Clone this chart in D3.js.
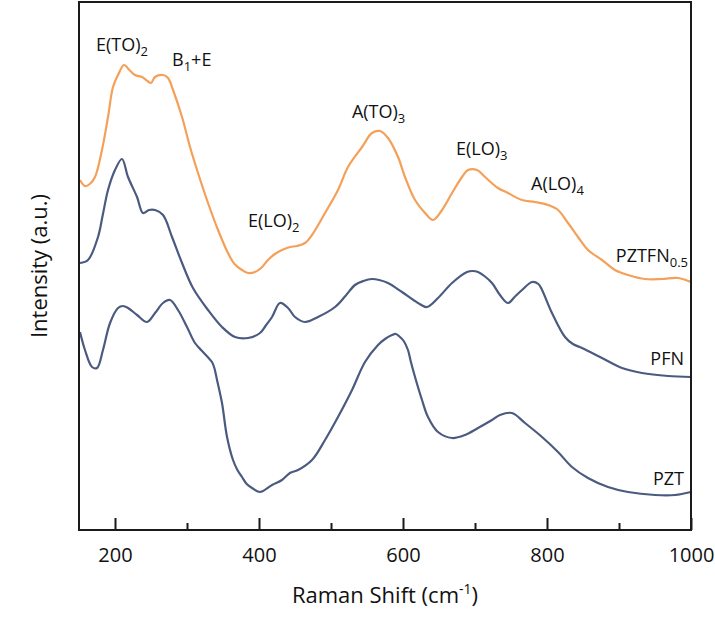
<!DOCTYPE html>
<html>
<head>
<meta charset="utf-8">
<script src="https://cdn.jsdelivr.net/npm/d3@7"></script>
<style>
  html, body { margin: 0; padding: 0; background: #ffffff; }
  svg { display: block; }
  text { font-family: "Open Sans", "Noto Sans", sans-serif; fill: #111; }
</style>
</head>
<body>
<svg id="chart" width="715" height="625"></svg>
<script>
// Raman shift (cm^-1) and stacked intensity (a.u., vertically offset) for each sample
const pztfnShift = [151.4,158.3,165,172.2,181.9,190.3,197.2,204.2,212.5,220,227.8,237.5,245,250,255.6,266.7,273.6,280.6,293.1,304.2,315.3,329.2,343.1,356.9,366,376.4,385,394.4,403,412.5,422,431.9,443,453,463.9,473.6,491.7,509.7,523.6,543.1,556.9,568.1,579.2,593.1,602.8,616.7,630.6,641.7,654.2,668.1,681.9,690.3,702.8,713.9,731.9,745.8,765.3,783.3,801.4,815.3,829.2,843.1,856.9,876.4,894.4,912.5,936.1,959.7,981.9,1000];
const pztfnIntensity = [350,344,346,353,380,413,443,455,465,460,455,453,449,447,453,455,452,440,413,383,357,327,300,277,266,260,257,258,262,270,276,280,283,284,287,295,317,340,363,383,397,399,392,373,353,330,317,310,320,337,353,360,360,353,342,337,330,328,325,320,307,293,280,270,260,255,251,251,252,248];

const pfnShift = [151.4,162.5,176.4,183,190.3,200,209.7,218.1,230.6,238.9,247.2,255.6,266.7,279.2,293.1,308.3,329.2,348.6,366.7,384.7,401.4,410,418.1,429.2,440.3,450,463.9,481.9,505.6,520,533.3,545,556.9,567,579.2,598.6,620.8,633.3,648.6,668.1,688.9,697,704.2,713,723.6,734.7,745.8,755,765.3,779.2,788,793.1,806.9,825,836,848.6,876.4,904.2,931.9,968.1,1000];
const pfnIntensity = [267,270,293,315,340,360,371,353,333,317,320,320,315,293,267,242,220,203,193,192,197,205,213,227,222,213,208,213,223,234,245,249,251,250,247,238,227,223,232,247,258,259,258,254,247,235,227,233,240,248,246,240,217,193,186,182,172,162,157,154,153];

const pztShift = [151.4,158.3,168.1,175,183.3,193.1,204.2,211,218.1,230.6,244.4,255.6,266.7,276.4,287.5,300,311.1,322.2,330,334.7,338,341.7,348.6,355.6,363.9,370,376.4,383,390.3,401.4,418.1,431.9,443,454.2,473.6,491.7,509.7,529.2,547.2,565.3,575,584.7,590,595.8,601,606.9,611,616.7,626.4,634.7,648.6,668.1,686.1,704.2,723.6,734.7,751.4,769.4,793.1,815.3,834.7,856.9,884.7,912.5,950,977.8,1000];
const pztIntensity = [198,180,163,162,180,207,222,224,222,215,208,217,227,230,220,203,187,178,172,168,162,150,127,93,70,60,53,46,42,38,45,50,57,60,70,90,113,140,168,185,191,195,196,193,189,180,168,153,130,113,98,92,95,102,110,115,117,107,93,78,63,52,43,38,35,35,38];

const seriesNames = ["PZTFN", "PFN", "PZT"];
const seriesColors = ["#f5a058", "#4b5b80", "#4b5b80"];

const majorTicks = [200, 400, 600, 800, 1000];
const minorTicks = [300, 500, 700, 900];

// Phonon mode annotations: [base text, subscript, trailing text, shift, intensity]
const modeLabels = [
  ["E(TO)", "2", "", 173.6, 479],
  ["B", "1", "+E", 279.2, 464],
  ["E(LO)", "2", "", 384.7, 303],
  ["A(TO)", "3", "", 529, 412],
  ["E(LO)", "3", "", 673.6, 375],
  ["A(LO)", "4", "", 777.8, 340]
];

const svg = d3.select("#chart");
const plotLeft = 79, plotRight = 691, plotTop = 2, plotBottom = 530;

const x = d3.scaleLinear().domain([150, 1000]).range([plotLeft, plotRight]);
const y = d3.scaleLinear().domain([0, 528]).range([plotBottom, plotTop]);

const line = d3.line()
  .x(d => x(d[0]))
  .y(d => y(d[1]))
  .curve(d3.curveCatmullRom.alpha(0.5));

const series = [
  d3.zip(pztfnShift, pztfnIntensity),
  d3.zip(pfnShift, pfnIntensity),
  d3.zip(pztShift, pztIntensity)
];

svg.append("g").selectAll("path")
  .data(series)
  .join("path")
  .attr("d", line)
  .attr("fill", "none")
  .attr("stroke", (d, i) => seriesColors[i])
  .attr("stroke-width", 2.2)
  .attr("stroke-linejoin", "round");

// Plot frame
svg.append("rect")
  .attr("x", plotLeft).attr("y", plotTop)
  .attr("width", plotRight - plotLeft).attr("height", plotBottom - plotTop)
  .attr("fill", "none")
  .attr("stroke", "#1a1a1a")
  .attr("stroke-width", 2);

// Bottom axis: inward major ticks with labels, shorter minor ticks
const xAxis = d3.axisBottom(x)
  .tickValues(majorTicks)
  .tickFormat(d3.format("d"))
  .tickSizeInner(-12)
  .tickSizeOuter(0)
  .tickPadding(18);

const gx = svg.append("g")
  .attr("transform", `translate(0,${plotBottom})`)
  .call(xAxis);
gx.select(".domain").remove();
gx.selectAll(".tick line").attr("stroke", "#1a1a1a").attr("stroke-width", 2);
gx.selectAll(".tick text")
  .style("font-family", '"Open Sans", sans-serif')
  .style("font-size", "20px")
  .attr("fill", "#111");

const minorAxis = d3.axisBottom(x)
  .tickValues(minorTicks)
  .tickFormat("")
  .tickSizeInner(-7)
  .tickSizeOuter(0);
const gm = svg.append("g")
  .attr("transform", `translate(0,${plotBottom})`)
  .call(minorAxis);
gm.select(".domain").remove();
gm.selectAll(".tick line").attr("stroke", "#1a1a1a").attr("stroke-width", 2);

// Axis titles
const xTitle = svg.append("text")
  .attr("x", 385)
  .attr("y", 603)
  .attr("text-anchor", "middle")
  .style("font-size", "22px");
xTitle.append("tspan").text("Raman Shift (cm");
xTitle.append("tspan").attr("dy", -9).style("font-size", "14px").text("-1");
xTitle.append("tspan").attr("dy", 9).text(")");

svg.append("text")
  .attr("transform", "translate(47,266) rotate(-90)")
  .attr("text-anchor", "middle")
  .style("font-size", "22px")
  .text("Intensity (a.u.)");

// Mode annotations
modeLabels.forEach(([base, sub, tail, sx, sy]) => {
  const t = svg.append("text")
    .attr("x", x(sx))
    .attr("y", y(sy))
    .style("font-size", "18px");
  t.append("tspan").text(base);
  t.append("tspan").attr("dy", 5).style("font-size", "13px").text(sub);
  if (tail) t.append("tspan").attr("dy", -5).text(tail);
});

// Sample names at the right end of each trace
const sampleLabels = [
  ["PZTFN", "0.5", 268],
  ["PFN", "", 165],
  ["PZT", "", 45]
];
sampleLabels.forEach(([name, sub, sy]) => {
  const t = svg.append("text")
    .attr("x", sub ? 688 : 684)
    .attr("y", y(sy))
    .attr("text-anchor", "end")
    .style("font-size", "18px");
  t.append("tspan").text(name);
  if (sub) t.append("tspan").attr("dy", 5).style("font-size", "13px").text(sub);
});
</script>
</body>
</html>
